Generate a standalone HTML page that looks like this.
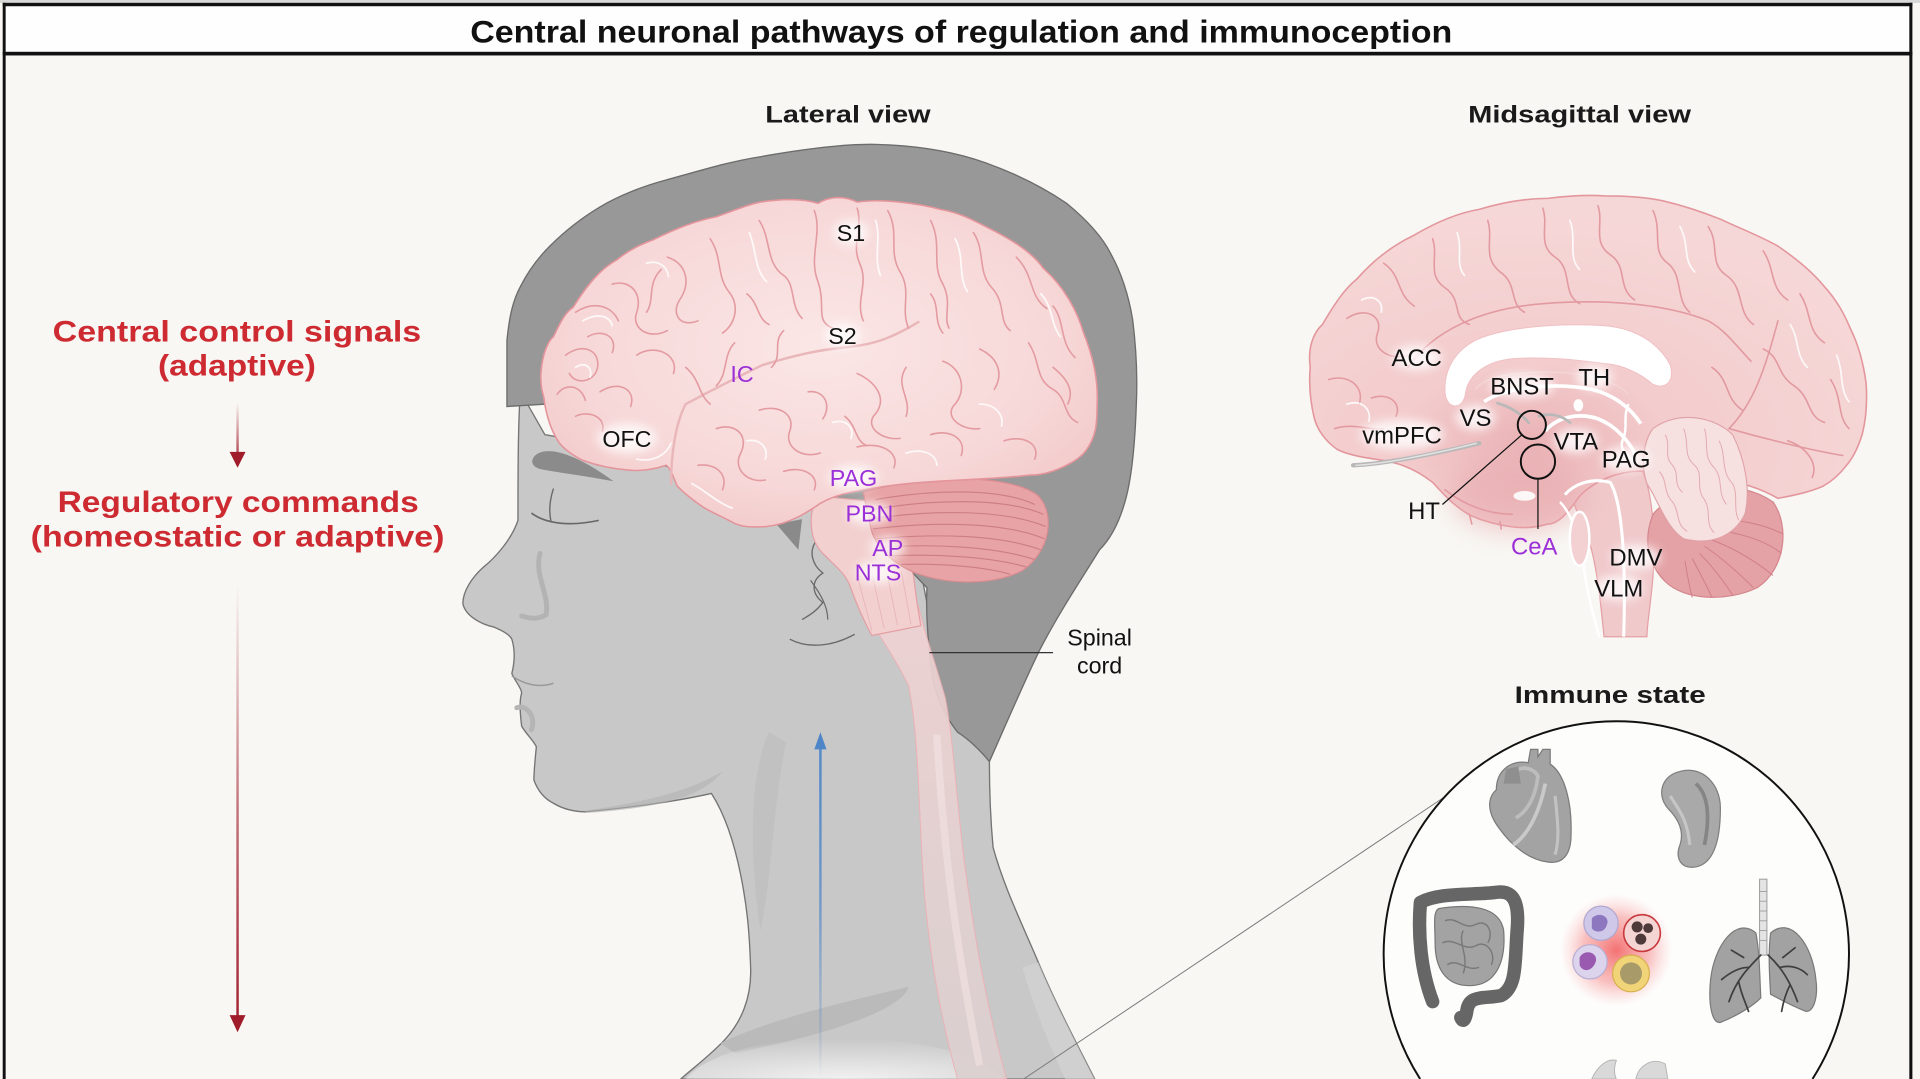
<!DOCTYPE html>
<html>
<head>
<meta charset="utf-8">
<style>
html,body{margin:0;padding:0;background:#f8f7f3;width:1920px;height:1079px;overflow:hidden;}
svg{display:block;position:absolute;left:0;top:0;}
text{font-family:"Liberation Sans",Arial,sans-serif;}
</style>
</head>
<body>
<svg width="1920" height="1079" viewBox="0 0 1568 881.2" xmlns="http://www.w3.org/2000/svg" overflow="hidden">
<defs>
  <radialGradient id="brainG" cx="0.5" cy="0.45" r="0.6">
    <stop offset="0" stop-color="#fbe6e6"/>
    <stop offset="0.7" stop-color="#f7d8d8"/>
    <stop offset="1" stop-color="#f3caca"/>
  </radialGradient>
  <radialGradient id="midG" cx="0.4" cy="0.75" r="0.7">
    <stop offset="0" stop-color="#eab2b5"/>
    <stop offset="0.35" stop-color="#f3cccd"/>
    <stop offset="1" stop-color="#f6d7d7"/>
  </radialGradient>
  <radialGradient id="cellGlow" cx="0.5" cy="0.5" r="0.5">
    <stop offset="0" stop-color="#f25a5a" stop-opacity="0.85"/>
    <stop offset="0.6" stop-color="#f58585" stop-opacity="0.5"/>
    <stop offset="1" stop-color="#f8b0b0" stop-opacity="0"/>
  </radialGradient>
  <radialGradient id="neckGlow" cx="0.5" cy="1" r="1">
    <stop offset="0" stop-color="#ffffff" stop-opacity="0.75"/>
    <stop offset="1" stop-color="#ffffff" stop-opacity="0"/>
  </radialGradient>
  <linearGradient id="blueG" gradientUnits="userSpaceOnUse" x1="0" y1="881" x2="0" y2="600">
    <stop offset="0" stop-color="#4f86c8" stop-opacity="0"/>
    <stop offset="0.5" stop-color="#4f86c8" stop-opacity="0.7"/>
    <stop offset="1" stop-color="#4f86c8" stop-opacity="1"/>
  </linearGradient>
  <linearGradient id="redG1" gradientUnits="userSpaceOnUse" x1="0" y1="329" x2="0" y2="382">
    <stop offset="0" stop-color="#a01c2b" stop-opacity="0"/>
    <stop offset="1" stop-color="#a01c2b" stop-opacity="1"/>
  </linearGradient>
  <linearGradient id="redG2" gradientUnits="userSpaceOnUse" x1="0" y1="478" x2="0" y2="842">
    <stop offset="0" stop-color="#a01c2b" stop-opacity="0"/>
    <stop offset="0.5" stop-color="#a01c2b" stop-opacity="0.6"/>
    <stop offset="1" stop-color="#a01c2b" stop-opacity="1"/>
  </linearGradient>
  <linearGradient id="cordG" gradientUnits="userSpaceOnUse" x1="0" y1="490" x2="0" y2="881">
    <stop offset="0" stop-color="#f0d2d2"/>
    <stop offset="1" stop-color="#dcd0d0"/>
  </linearGradient>
  <filter id="blur" x="-50%" y="-50%" width="200%" height="200%"><feGaussianBlur stdDeviation="4"/></filter>
  <filter id="blur2" x="-50%" y="-50%" width="200%" height="200%"><feGaussianBlur stdDeviation="10"/></filter>
</defs>

<!-- background -->
<rect x="0" y="0" width="1568" height="881.2" fill="#f8f7f3"/>
<rect x="0" y="0" width="1568" height="2.4" fill="#d8d8d8"/>
<rect x="3" y="4" width="1558" height="39" fill="#fefefe"/>
<!-- frame -->
<rect x="2.2" y="2.3" width="1559.6" height="2.8" fill="#111"/>
<rect x="2.2" y="42.3" width="1559.6" height="3" fill="#111"/>
<rect x="2.2" y="2.3" width="2.4" height="878.9" fill="#111"/>
<rect x="1559.3" y="2.3" width="2.5" height="878.9" fill="#111"/>

<!-- title -->
<text x="384" y="34.9" font-size="25.5" font-weight="bold" fill="#111" textLength="802" lengthAdjust="spacingAndGlyphs">Central neuronal pathways of regulation and immunoception</text>
<text x="625" y="100" font-size="19.5" font-weight="bold" fill="#1a1a1a" textLength="135" lengthAdjust="spacingAndGlyphs">Lateral view</text>
<text x="1199" y="100" font-size="19.5" font-weight="bold" fill="#1a1a1a" textLength="182" lengthAdjust="spacingAndGlyphs">Midsagittal view</text>

<!-- left red text -->
<g fill="#cd2a31" font-weight="bold" font-size="24.5">
  <text x="43" y="279" textLength="301" lengthAdjust="spacingAndGlyphs">Central control signals</text>
  <text x="129" y="306.5" textLength="129" lengthAdjust="spacingAndGlyphs">(adaptive)</text>
  <text x="47" y="418" textLength="295" lengthAdjust="spacingAndGlyphs">Regulatory commands</text>
  <text x="25" y="446.5" textLength="338" lengthAdjust="spacingAndGlyphs">(homeostatic or adaptive)</text>
</g>
<!-- red arrows -->
<line x1="194" y1="329" x2="194" y2="372" stroke="url(#redG1)" stroke-width="2"/>
<path d="M187.5 369 L200.5 369 L194 382 Z" fill="#a01c2b"/>
<line x1="194" y1="478" x2="194" y2="832" stroke="url(#redG2)" stroke-width="2"/>
<path d="M187.5 829 L200.5 829 L194 843 Z" fill="#a01c2b"/>

<!-- ============ LATERAL HEAD ============ -->
<path d="M425 320 C423 345,423 390,423 425 C418 440,405 455,395 463 C385 472,378 483,378 493 C380 503,393 510,403 512 C410 515,416 518,418 522 C421 532,420 542,418 550 C421 557,426 562,426 566 C424 572,425 585,426 593 C430 600,436 605,438 610 C437 620,436 630,436 637 C440 648,446 653,452 656 C460 661,470 663,478 663 C510 660,550 655,581 648 C592 665,600 690,605 715 C610 740,612 760,613 790 C614 815,605 835,592 849 C580 862,565 873,556 881.2 L894 881.2 C878 850,860 815,848 786 C835 755,820 725,811 692 C809 670,808 645,808 622 L770 560 L745 430 L700 400 L445 355 Z" fill="#c8c8c8" stroke="#747474" stroke-width="1.1"/>
<!-- neck shading -->
<path d="M628 598 C613 630,611 690,621 760 C630 720,631 660,642 606 Z" fill="#bcbcbc" opacity="0.6"/>
<path d="M588 852 C630 832,690 818,742 806 C738 822,690 842,600 860 Z" fill="#b6b6b6" opacity="0.8"/>
<path d="M478 662 C520 656,560 648,590 630 C575 650,540 660,478 664 Z" fill="#b3b3b3" opacity="0.6"/>
<path d="M560 881.2 C580 858,630 848,690 848 C750 848,800 860,820 881.2 Z" fill="url(#neckGlow)"/>
<path d="M848 786 C860 815,878 850,894 881.2 L870 881.2 C855 850,842 815,835 790 Z" fill="#d6d6d6" opacity="0.6"/>
<!-- face details -->
<path d="M437 372 C446 364,468 369,501 393 C480 389,456 386,441 383 C434 381,433 376,437 372 Z" fill="#8b8b8b"/>
<path d="M434 419 C446 428,466 430,489 425" fill="none" stroke="#666" stroke-width="1.3"/>
<path d="M452 399 C449 408,448 417,450 426" fill="none" stroke="#666" stroke-width="1.1"/>
<path d="M441 452 C436 470,449 485,446 502 C440 506,432 505,426 503" fill="none" stroke="#b3b3b3" stroke-width="4" stroke-linecap="round"/>
<path d="M418 552 C428 559,440 562,452 558" fill="none" stroke="#9a9a9a" stroke-width="1.2"/>
<path d="M422 578 C430 575,438 585,434 596" fill="none" stroke="#b5b5b5" stroke-width="4" stroke-linecap="round"/>
<!-- ear -->
<path d="M668 440 C659 450,664 462,672 468 C661 475,664 486,672 492 C666 500,660 503,655 506" fill="none" stroke="#6a6a6a" stroke-width="1.1"/>
<path d="M645 522 C660 530,680 528,698 518" fill="none" stroke="#6a6a6a" stroke-width="1.1"/>
<path d="M662 474 C670 485,676 495,676 506" fill="none" stroke="#6a6a6a" stroke-width="1"/>
<path d="M634 428 L655 424 L652 449 Z" fill="#8a8a8a"/>

<!-- hair -->
<path d="M414 332 L414 278 C416 258,419 245,425 234 C432 220,440 210,449 201 C462 188,475 178,490 169 C505 160,525 152,544 147 C570 140,595 132,621 128 C655 122,690 117,718 118 C750 119,780 124,805 133 C830 142,852 153,871 166 C888 180,900 193,907 207 C917 225,922 243,925 261 C928 285,929 308,928 330 C927 360,925 385,920 405 C915 425,907 440,898 449 C885 470,865 500,849 531 C835 560,820 595,808 622 C800 612,790 603,782 598 C772 585,765 570,762 555 C758 530,756 500,757 480 L700 420 L470 362 L446 330 Z" fill="#989898" stroke="#6c6c6c" stroke-width="1.1"/>

<!-- spinal cord -->
<path d="M700 490 C712 510,730 535,742 560 C750 600,750 650,753 700 C756 760,765 820,782 881.2 L822 881.2 C805 820,795 760,787 700 C780 640,778 600,772 570 C765 545,756 520,750 495 Z" fill="url(#cordG)" opacity="0.92" stroke="#eeb0b4" stroke-width="0.8"/>
<path d="M765 600 C770 680,778 760,800 870" fill="none" stroke="#f3e3e3" stroke-width="6" opacity="0.6"/>
<path d="M712 519 L752 511" stroke="#e8b0b3" stroke-width="1"/>
<!-- brainstem -->
<path d="M668 405 C660 418,660 440,672 452 C682 462,690 468,694 478 C700 495,706 508,712 519 L752 511 C750 500,748 488,746 470 C740 450,728 430,718 410 Z" fill="#f3d0d0" stroke="#e39fa4" stroke-width="1"/>
<path d="M700 470 L712 515 M712 468 L722 513 M724 466 L733 511 M736 466 L744 510" stroke="#e8b7ba" stroke-width="0.8"/>
<!-- cerebellum -->
<path d="M705 402 C750 388,825 386,848 405 C862 420,858 450,835 466 C812 478,775 478,748 468 C728 460,712 445,710 425 C708 415,706 408,705 402 Z" fill="#e7a3a5" stroke="#d98c91" stroke-width="1"/>
<g fill="none" stroke="#cc7d85" stroke-width="0.9">
  <path d="M715 408 C760 400,815 398,845 412"/>
  <path d="M713 416 C760 408,820 406,852 420"/>
  <path d="M712 424 C760 416,820 416,854 430"/>
  <path d="M713 432 C760 426,820 426,853 440"/>
  <path d="M716 440 C760 436,815 436,850 449"/>
  <path d="M720 447 C760 444,812 446,845 457"/>
  <path d="M727 454 C765 452,810 455,838 463"/>
  <path d="M736 461 C770 460,805 463,825 469"/>
</g>

<!-- cerebrum lateral -->
<path d="M444 324 C438 305,445 280,452 275 C458 262,462 255,468 251 C480 232,490 220,504 212 C515 203,525 199,533 196 C555 185,570 180,585 177 C600 172,610 167,621 165 C640 162,655 162,668 166 C678 160,690 160,700 165 C720 162,750 166,768 171 C785 174,795 180,805 185 C825 195,842 205,852 219 C870 235,880 255,885 272 C893 292,897 312,896 330 C896 345,895 352,892 359 C888 368,884 372,878 376 C865 384,852 388,841 388 C810 392,760 392,732 396 C715 398,705 400,695 402 C685 404,677 407,670 411 C660 418,645 428,626 430 C612 431,605 430,599 427 C590 422,580 418,574 414 C565 408,558 402,553 397 C550 390,548 383,544 380 C535 383,525 385,514 384 C500 383,487 380,476 376 C468 372,462 368,457 362 C450 352,446 340,444 324 Z" fill="url(#brainG)" stroke="#e3959b" stroke-width="1.3"/>
<g fill="none" stroke="#e39ba1" stroke-width="1.3" stroke-linecap="round">
  <path d="M548 395 C548 370,552 345,560 330 C575 322,594 312,623 298 C650 290,666 286,696 283 C712 281,725 278,750 263" stroke="#e9b7ba" stroke-width="2"/>
  <path d="M470 255 C485 245,500 250,505 262"/>
  <path d="M462 290 C475 280,490 285,488 300 C486 312,470 315,465 305"/>
  <path d="M500 232 C515 228,525 240,520 255 C515 268,530 278,545 270"/>
  <path d="M490 320 C505 310,520 318,515 332"/>
  <path d="M545 210 C560 215,565 230,555 245 C548 256,555 268,570 262"/>
  <path d="M520 290 C535 280,555 290,550 305"/>
  <path d="M470 340 C480 335,495 340,492 352"/>
  <path d="M580 195 C590 210,585 225,595 238 C605 250,600 265,590 272"/>
  <path d="M600 280 C590 290,595 305,585 315"/>
  <path d="M620 180 C630 195,625 215,640 225 C650 232,645 250,655 260"/>
  <path d="M665 172 C672 190,660 210,668 230 C675 250,665 262,680 268"/>
  <path d="M700 170 C705 185,695 200,702 215 C710 232,698 245,705 262"/>
  <path d="M725 172 C735 190,725 205,735 222 C745 238,735 252,742 268"/>
  <path d="M760 180 C770 200,760 215,770 232 C778 248,770 258,775 268"/>
  <path d="M795 190 C805 205,798 222,810 235 C822 248,815 262,825 270"/>
  <path d="M830 210 C845 225,840 242,855 252"/>
  <path d="M860 250 C870 262,865 280,878 292"/>
  <path d="M840 280 C850 295,845 310,860 318 C872 325,868 340,880 345"/>
  <path d="M800 285 C815 292,820 305,812 318"/>
  <path d="M770 295 C785 300,790 318,780 330 C770 340,785 352,800 350"/>
  <path d="M740 300 C730 315,745 325,740 340"/>
  <path d="M700 305 C715 312,725 325,715 338 C705 348,720 360,735 358"/>
  <path d="M660 320 C672 318,680 330,672 342"/>
  <path d="M620 335 C635 330,650 338,645 352 C640 365,655 375,670 370"/>
  <path d="M585 350 C600 345,612 355,605 370 C598 382,610 395,625 392"/>
  <path d="M570 380 C585 378,595 388,590 400"/>
  <path d="M640 385 C655 380,670 388,665 400"/>
  <path d="M700 365 C720 360,735 370,730 382"/>
  <path d="M760 355 C775 350,790 358,785 372"/>
  <path d="M820 360 C835 355,850 362,845 375"/>
  <path d="M540 220 C528 232,535 245,528 255"/>
  <path d="M455 322 C462 312,475 315,478 327"/>
  <path d="M640 270 C630 280,640 290,630 300"/>
  <path d="M560 300 C572 310,570 322,580 330"/>
  <path d="M860 300 C870 308,878 318,872 330"/>
  <path d="M480 275 C492 268,505 275,500 288"/>
  <path d="M610 240 C620 248,618 260,628 265"/>
  <path d="M760 240 C768 250,762 262,770 272"/>
  <path d="M690 340 C700 348,698 360,708 364"/>
</g>
<g fill="none" stroke="#ffffff" stroke-width="1.4" stroke-linecap="round" opacity="0.85">
  <path d="M476 262 C488 255,498 258,500 266"/>
  <path d="M528 215 C538 212,545 218,546 226"/>
  <path d="M612 190 C618 205,616 220,626 230"/>
  <path d="M715 180 C720 195,713 210,719 225"/>
  <path d="M780 195 C788 210,782 225,790 238"/>
  <path d="M850 240 C860 250,858 265,866 275"/>
  <path d="M470 300 C478 295,484 300,482 308"/>
  <path d="M610 360 C620 358,628 365,625 375"/>
  <path d="M740 370 C752 366,765 370,765 380"/>
  <path d="M680 345 C690 342,698 348,695 358"/>
  <path d="M800 330 C812 330,820 338,818 348"/>
  <path d="M565 395 C575 400,585 410,598 415"/>
  <path d="M520 375 C535 378,545 370,548 362"/>
</g>

<g fill="#ffffff" opacity="0.8" filter="url(#blur)">
  <ellipse cx="695" cy="190" rx="14" ry="10"/>
  <ellipse cx="688" cy="274" rx="14" ry="10"/>
  <ellipse cx="512" cy="358" rx="24" ry="12"/>
  <ellipse cx="697" cy="390" rx="20" ry="10"/>
  <ellipse cx="710" cy="419" rx="18" ry="9"/>
  <ellipse cx="725" cy="447" rx="14" ry="9"/>
  <ellipse cx="717" cy="467" rx="18" ry="9"/>
</g>
<g font-size="19" text-anchor="middle">
  <text x="695" y="197" fill="#111">S1</text>
  <text x="688" y="281" fill="#111">S2</text>
  <text x="606" y="312" fill="#9b2fd8">IC</text>
  <text x="512" y="365" fill="#111">OFC</text>
  <text x="697" y="397" fill="#9b2fd8">PAG</text>
  <text x="710" y="426" fill="#9b2fd8">PBN</text>
  <text x="725" y="454" fill="#9b2fd8">AP</text>
  <text x="717" y="474" fill="#9b2fd8">NTS</text>
</g>

<line x1="759" y1="533" x2="860" y2="533" stroke="#333" stroke-width="1"/>
<g font-size="19" text-anchor="middle" fill="#111">
  <text x="898" y="527">Spinal</text>
  <text x="898" y="550">cord</text>
</g>

<line x1="670" y1="881" x2="670" y2="608" stroke="url(#blueG)" stroke-width="2"/>
<path d="M665 612 L675 612 L670 598 Z" fill="#4f86c8"/>

<!-- ============ MIDSAGITTAL ============ -->
<path d="M1282 400 C1295 385,1320 378,1340 382 C1350 400,1352 440,1350 470 C1348 495,1345 510,1345 520 L1310 520 C1308 500,1305 470,1300 450 C1295 430,1285 415,1282 400 Z" fill="#f0c9cb" stroke="#e4a0a5" stroke-width="1"/>
<path d="M1350 420 C1370 395,1420 390,1448 410 C1462 430,1458 465,1435 480 C1410 492,1375 490,1360 475 C1345 460,1342 440,1350 420 Z" fill="#e4a2a6" stroke="#d4868c" stroke-width="1"/>
<g fill="none" stroke="#cf7f87" stroke-width="0.8">
  <path d="M1395 440 C1410 445,1430 455,1448 470"/>
  <path d="M1392 446 C1405 455,1420 468,1432 480"/>
  <path d="M1388 452 C1398 462,1408 475,1415 486"/>
  <path d="M1382 456 C1388 468,1394 478,1398 488"/>
  <path d="M1398 432 C1418 435,1440 440,1455 452"/>
  <path d="M1400 424 C1420 424,1440 428,1456 436"/>
  <path d="M1376 458 C1378 470,1380 480,1382 488"/>
</g>
<path d="M1070 300 C1068 285,1072 272,1080 265 C1090 248,1098 236,1108 228 C1122 212,1138 200,1155 192 C1172 182,1190 174,1208 171 C1228 165,1246 162,1264 162 C1280 160,1296 159,1311 160 C1328 160,1344 161,1358 164 C1375 168,1390 173,1405 179 C1422 187,1438 193,1452 201 C1468 212,1480 222,1489 233 C1500 245,1506 256,1511 268 C1518 282,1522 298,1524 313 C1525 328,1524 342,1521 354 C1518 364,1514 373,1508 380 C1502 388,1496 393,1489 397 C1475 403,1462 405,1452 407 C1440 400,1420 392,1400 392 L1345 385 C1320 383,1300 395,1290 405 C1280 420,1272 428,1264 428 C1250 432,1240 431,1233 430 C1220 428,1210 425,1201 421 C1185 412,1176 400,1170 394 C1155 382,1140 377,1123 375 C1110 373,1100 371,1092 367 C1082 360,1075 350,1073 340 C1070 327,1069 312,1070 300 Z" fill="url(#midG)" stroke="#e3979d" stroke-width="1.3"/>
<path d="M1350 350 C1370 335,1400 340,1415 355 C1425 375,1430 400,1425 420 C1415 440,1395 445,1375 440 C1360 430,1355 410,1345 395 C1340 380,1342 360,1350 350 Z" fill="#f6e0e0" stroke="#e0a0a6" stroke-width="0.9"/>
<g fill="none" stroke="#e3aab0" stroke-width="0.8">
  <path d="M1360 355 C1365 365,1358 372,1366 380 C1372 388,1366 395,1374 402"/>
  <path d="M1375 350 C1380 362,1374 372,1384 380 C1392 388,1384 398,1392 408 C1398 418,1392 428,1400 435"/>
  <path d="M1392 350 C1396 362,1390 372,1400 382 C1408 392,1402 402,1410 412"/>
  <path d="M1404 360 C1410 372,1405 385,1415 395 C1420 405,1415 415,1420 425"/>
  <path d="M1355 385 C1362 392,1358 402,1366 410 C1372 418,1368 428,1378 434"/>
</g>
<ellipse cx="1240" cy="405" rx="55" ry="30" fill="#e7a9ad" opacity="0.55" filter="url(#blur2)"/>
<path d="M1180 318 C1180 295,1195 280,1215 274 C1240 266,1280 264,1311 266 C1335 268,1355 280,1364 298 C1368 312,1360 318,1350 314 C1340 305,1325 298,1311 297 C1290 294,1260 291,1235 293 C1215 295,1200 305,1197 320 C1196 330,1190 334,1184 330 C1181 327,1180 323,1180 318 Z" fill="#ffffff" stroke="#f0c0c3" stroke-width="0.8"/>
<path d="M1205 318 C1212 308,1235 303,1270 304 C1300 305,1320 312,1330 322" fill="none" stroke="#f3d5d6" stroke-width="1.2"/>
<path d="M1212 328 C1230 316,1270 312,1300 318 C1320 323,1332 334,1340 346" fill="none" stroke="#ffffff" stroke-width="3"/>
<path d="M1262 352 C1272 340,1290 337,1305 342 C1320 348,1330 360,1336 372" fill="none" stroke="#ffffff" stroke-width="3"/>
<path d="M1278 404 C1286 395,1300 390,1315 394 C1325 410,1328 460,1326 520" fill="none" stroke="#ffffff" stroke-width="2.5"/>
<path d="M1274 410 C1284 420,1290 440,1293 460 C1296 485,1302 505,1306 520" fill="none" stroke="#ffffff" stroke-width="2"/>
<ellipse cx="1290" cy="440" rx="8" ry="22" fill="#f3d0d2" stroke="#ffffff" stroke-width="2"/>
<path d="M1330 330 C1325 340,1330 350,1325 360 C1322 368,1330 372,1335 378" fill="none" stroke="#ffffff" stroke-width="2"/>
<ellipse cx="1289" cy="331" rx="4" ry="5" fill="#ffffff"/>
<ellipse cx="1245" cy="405" rx="9" ry="4" fill="#ffffff" opacity="0.9"/>
<path d="M1105 380 C1130 379,1170 371,1208 362" fill="none" stroke="#b8b8b8" stroke-width="3.5" stroke-linecap="round"/>
<path d="M1107 380 C1130 379,1170 371,1206 362" fill="none" stroke="#e2e2e2" stroke-width="1.2"/>
<path d="M1222 329 C1233 332,1243 338,1249 346 M1256 340 C1266 337,1276 339,1283 346" fill="none" stroke="#b8b8b8" stroke-width="2.2"/>
<g fill="none" stroke="#e29aa0" stroke-width="1.3" stroke-linecap="round">
  <path d="M1100 260 C1115 250,1130 258,1125 272 C1120 285,1135 295,1150 290"/>
  <path d="M1130 215 C1145 225,1140 240,1155 250"/>
  <path d="M1170 195 C1175 210,1165 225,1180 235 C1195 245,1185 260,1200 265"/>
  <path d="M1215 180 C1220 195,1210 210,1225 222 C1240 232,1232 248,1245 255"/>
  <path d="M1260 170 C1265 185,1255 200,1270 210 C1285 220,1275 240,1290 248"/>
  <path d="M1305 168 C1310 182,1300 198,1315 208 C1330 218,1320 235,1335 245"/>
  <path d="M1350 172 C1358 190,1348 205,1362 215 C1375 225,1368 245,1380 255"/>
  <path d="M1395 185 C1405 200,1395 215,1410 225 C1425 235,1418 255,1432 265"/>
  <path d="M1440 205 C1450 220,1445 235,1460 245"/>
  <path d="M1470 240 C1480 255,1475 270,1490 280"/>
  <path d="M1440 285 C1455 292,1450 305,1465 315 C1480 325,1475 340,1490 345"/>
  <path d="M1398 300 C1413 310,1408 325,1423 335"/>
  <path d="M1495 310 C1505 325,1500 340,1510 350"/>
  <path d="M1460 360 C1475 365,1485 378,1480 390"/>
  <path d="M1150 300 C1170 270,1210 252,1260 248 C1310 244,1360 248,1395 262 C1410 270,1420 285,1430 295"/>
  <path d="M1085 310 C1100 305,1115 315,1110 330"/>
  <path d="M1090 350 C1105 345,1120 352,1130 350"/>
  <path d="M1120 325 C1135 320,1145 330,1140 340"/>
  <path d="M1452 262 C1442 300,1432 330,1412 350 C1440 358,1480 368,1505 372"/>
  <path d="M1180 400 C1195 412,1215 420,1235 420"/>
  <path d="M1200 420 L1202 428 M1225 426 L1226 432"/>
</g>
<g fill="none" stroke="#ffffff" stroke-width="1.4" opacity="0.85" stroke-linecap="round">
  <path d="M1112 245 C1122 240,1130 246,1128 255"/>
  <path d="M1190 190 C1195 205,1188 215,1196 225"/>
  <path d="M1282 180 C1288 195,1280 210,1290 220"/>
  <path d="M1372 185 C1380 200,1374 212,1384 222"/>
  <path d="M1462 265 C1470 278,1466 290,1476 300"/>
  <path d="M1500 290 C1506 305,1502 318,1510 328"/>
  <path d="M1100 330 C1112 326,1120 334,1118 344"/>
</g>
<g fill="#ffffff" opacity="0.8" filter="url(#blur)">
  <ellipse cx="1145" cy="355" rx="34" ry="12"/>
  <ellipse cx="1205" cy="341" rx="16" ry="10"/>
  <ellipse cx="1157" cy="292" rx="20" ry="10"/>
  <ellipse cx="1243" cy="315" rx="26" ry="10"/>
  <ellipse cx="1302" cy="308" rx="14" ry="10"/>
  <ellipse cx="1287" cy="360" rx="18" ry="10"/>
  <ellipse cx="1328" cy="375" rx="20" ry="10"/>
  <ellipse cx="1336" cy="455" rx="20" ry="10"/>
  <ellipse cx="1322" cy="480" rx="20" ry="10"/>
</g>
<circle cx="1251" cy="347" r="11.5" fill="none" stroke="#111" stroke-width="1.6"/>
<circle cx="1256" cy="377" r="14" fill="none" stroke="#111" stroke-width="1.6"/>
<line x1="1178" y1="412" x2="1243" y2="355" stroke="#111" stroke-width="1"/>
<line x1="1256" y1="391" x2="1256" y2="432" stroke="#111" stroke-width="1"/>
<g font-size="19.5" text-anchor="middle" fill="#111">
  <text x="1157" y="299">ACC</text>
  <text x="1302" y="315">TH</text>
  <text x="1243" y="322">BNST</text>
  <text x="1205" y="348">VS</text>
  <text x="1145" y="362">vmPFC</text>
  <text x="1287" y="367">VTA</text>
  <text x="1328" y="382">PAG</text>
  <text x="1163" y="424">HT</text>
  <text x="1253" y="453" fill="#9b2fd8">CeA</text>
  <text x="1336" y="462">DMV</text>
  <text x="1322" y="487">VLM</text>
</g>

<!-- ============ IMMUNE STATE ============ -->
<text x="1237" y="574" font-size="20" font-weight="bold" fill="#1a1a1a" textLength="156" lengthAdjust="spacingAndGlyphs">Immune state</text>
<line x1="1181" y1="650" x2="836" y2="881.2" stroke="#7a7a7a" stroke-width="0.8"/>
<path d="M1159.8 881.2 A190 190 0 1 1 1480.2 881.2 Z" fill="#fdfdfc"/>
<path d="M1159.8 881.2 A190 190 0 1 1 1480.2 881.2" fill="none" stroke="#111" stroke-width="1.6"/>

<!-- heart -->
<path d="M1222 645 C1222 628,1236 620,1248 623 L1250 612 L1256 612 L1256 618 L1260 612 L1266 612 L1266 624 C1278 632,1284 656,1283 682 C1283 698,1276 706,1264 704 C1248 702,1234 690,1224 676 C1215 664,1214 652,1222 645 Z" fill="#a3a3a3" stroke="#7a7a7a" stroke-width="1"/>
<path d="M1236 632 C1240 625,1252 626,1256 634 C1254 650,1248 662,1238 668" fill="none" stroke="#bdbdbd" stroke-width="3"/>
<path d="M1262 640 C1258 660,1250 680,1236 690" fill="none" stroke="#c9c9c9" stroke-width="3"/>
<path d="M1270 650 C1272 670,1274 685,1270 698" fill="none" stroke="#c3c3c3" stroke-width="2.5"/>
<path d="M1228 640 L1230 628 L1240 626 L1242 640 Z" fill="#8f8f8f"/>
<!-- spleen -->
<path d="M1372 630 C1390 625,1405 640,1405 660 C1405 685,1400 705,1385 708 C1372 710,1368 700,1372 690 C1376 678,1370 668,1362 660 C1352 648,1358 633,1372 630 Z" fill="#a9a9a9" stroke="#7e7e7e" stroke-width="1"/>
<path d="M1385 640 C1396 650,1396 670,1392 690" fill="none" stroke="#858585" stroke-width="3"/>
<path d="M1364 650 C1370 660,1378 668,1380 690" fill="none" stroke="#c6c6c6" stroke-width="2.5"/>
<!-- intestines -->
<path d="M1175 742 C1200 738,1225 740,1228 760 C1230 785,1222 805,1200 805 C1180 805,1172 790,1172 770 C1172 755,1170 745,1175 742 Z" fill="#a3a3a3" stroke="#777" stroke-width="1"/>
<g fill="none" stroke="#7a7a7a" stroke-width="1.2">
  <path d="M1180 752 C1190 748,1195 760,1205 755 C1215 750,1220 762,1215 770"/>
  <path d="M1178 770 C1188 765,1196 778,1206 772 C1214 768,1222 778,1218 788"/>
  <path d="M1182 788 C1190 782,1198 794,1208 790"/>
  <path d="M1195 760 C1190 770,1200 780,1195 795"/>
</g>
<path d="M1170 818 C1160 792,1158 762,1160 737 C1175 729,1200 731,1220 729 C1236 726,1241 736,1239 760 C1237 786,1239 806,1226 813 C1212 816,1200 812,1198 825 C1197 832,1195 836,1193 831" fill="none" stroke="#666" stroke-width="11" stroke-linecap="round" stroke-linejoin="round"/>
<!-- cells -->
<circle cx="1320" cy="776" r="46" fill="url(#cellGlow)"/>
<circle cx="1307.5" cy="754" r="14" fill="#cfc8e8" stroke="#b0a8d0" stroke-width="1"/>
<path d="M1300 750 C1305 744,1316 748,1312 756 C1310 762,1302 762,1300 758" fill="#8d78c0"/>
<circle cx="1341" cy="762" r="15" fill="#f5d4d4" stroke="#c8383c" stroke-width="1.3"/>
<circle cx="1337" cy="757" r="4.5" fill="#4e3a3a"/>
<circle cx="1346" cy="758" r="4" fill="#4e3a3a"/>
<circle cx="1340" cy="767" r="4.5" fill="#4e3a3a"/>
<circle cx="1298.5" cy="785.5" r="14" fill="#dcd4ec" stroke="#b8aed4" stroke-width="1"/>
<path d="M1290 782 C1294 774,1306 778,1303 786 C1300 794,1292 794,1290 788" fill="#9a5ab0"/>
<circle cx="1332" cy="795" r="15" fill="#f2d478" stroke="#d8b050" stroke-width="1"/>
<circle cx="1332" cy="795" r="9" fill="#a99a6a"/>
<!-- lungs -->
<rect x="1437" y="718" width="6" height="62" fill="#e4e4e4" stroke="#9a9a9a" stroke-width="0.8"/>
<g stroke="#9a9a9a" stroke-width="0.7">
  <line x1="1437" y1="728" x2="1443" y2="728"/><line x1="1437" y1="736" x2="1443" y2="736"/>
  <line x1="1437" y1="744" x2="1443" y2="744"/><line x1="1437" y1="752" x2="1443" y2="752"/>
  <line x1="1437" y1="760" x2="1443" y2="760"/><line x1="1437" y1="768" x2="1443" y2="768"/>
</g>
<path d="M1434 762 C1418 748,1400 772,1397 800 C1395 820,1398 836,1405 835 C1420 829,1432 821,1438 815 C1437 795,1437 778,1434 762 Z" fill="#a2a2a2" stroke="#7a7a7a" stroke-width="1"/>
<path d="M1446 762 C1462 748,1480 770,1483 800 C1485 815,1481 826,1475 826 C1462 821,1452 815,1446 812 C1445 795,1444 778,1446 762 Z" fill="#a2a2a2" stroke="#7a7a7a" stroke-width="1"/>
<g fill="none" stroke="#3e3e3e" stroke-width="1.4" stroke-linecap="round">
  <path d="M1438 780 C1428 790,1418 800,1412 818 M1428 790 C1420 790,1412 795,1406 800 M1420 802 C1422 812,1426 820,1428 826 M1424 782 L1414 776"/>
  <path d="M1444 780 C1455 790,1462 802,1468 818 M1454 790 C1462 788,1470 790,1476 796 M1462 804 C1458 812,1456 820,1455 826 M1456 782 L1466 774"/>
</g>
<path d="M1300 881.2 C1304 872,1312 864,1320 866 C1318 872,1318 877,1320 881.2 Z" fill="#d9d9d9" stroke="#b5b5b5" stroke-width="0.8"/>
<path d="M1336 881.2 C1338 870,1350 863,1360 869 L1362 881.2 Z" fill="#d9d9d9" stroke="#b5b5b5" stroke-width="0.8"/>
</svg>
</body>
</html>
